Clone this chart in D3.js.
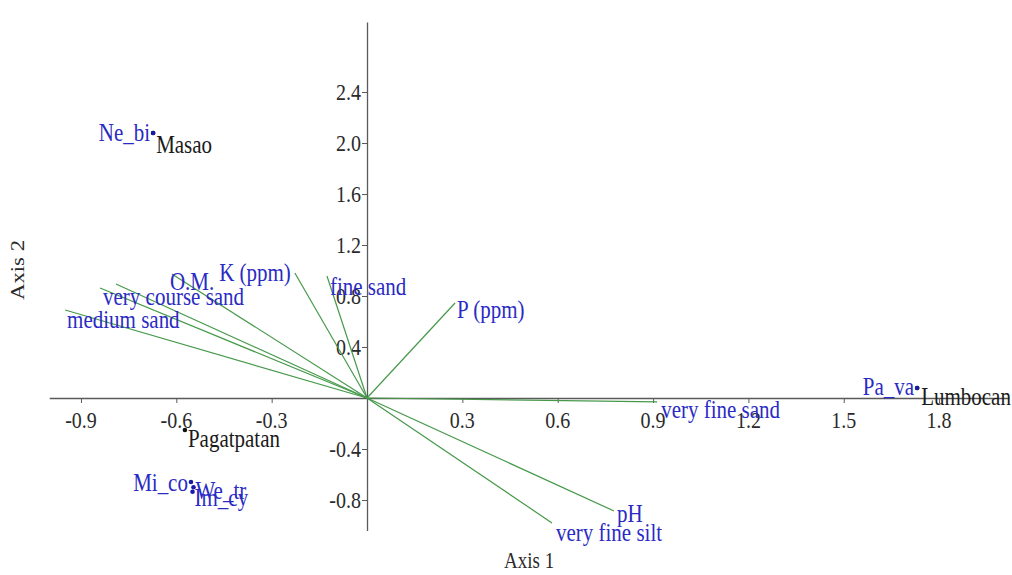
<!DOCTYPE html>
<html>
<head>
<meta charset="utf-8">
<script src="https://cdn.jsdelivr.net/npm/d3@7"></script>
<style>
  html, body { margin: 0; padding: 0; background: #fff; }
  svg { display: block; }
  svg text { font-family: "Liberation Serif", "DejaVu Serif", serif !important; }
</style>
</head>
<body>
<svg id="chart" width="1012" height="575"></svg>
<script>
// ---------- data ----------
const xTicks = [-0.9, -0.6, -0.3, 0.3, 0.6, 0.9, 1.2, 1.5, 1.8];
const yTicks = [2.4, 2.0, 1.6, 1.2, 0.8, 0.4, -0.4, -0.8];

const vectorNames = ["medium sand", "very course sand", "", "O.M.", "K (ppm)", "fine sand", "P (ppm)", "very fine sand", "pH", "very fine silt"];
const vectorX = [-0.950, -0.840, -0.790, -0.614, -0.227, -0.126, 0.277, 0.913, 0.777, 0.582];
const vectorY = [0.690, 0.863, 0.894, 0.973, 0.980, 0.957, 0.745, -0.031, -0.886, -0.980];

const speciesNames = ["Ne_bi", "Pa_va", "Mi_co", "We_tr", "Im_cy"];
const speciesX = [-0.673, 1.731, -0.554, -0.546, -0.549];
const speciesY = [2.078, 0.078, -0.659, -0.700, -0.735];

const siteNames = ["Masao", "Lumbocan", "Pagatpatan"];
const siteX = [-0.673, 1.731, -0.573];
const siteY = [2.078, 0.078, -0.251];

const axisTitles = ["Axis 1", "Axis 2"];

// ---------- layout ----------
const vectorLabelLayout = [
  {dx: 2, dy: 18, anchor: "start"},
  {dx: 3, dy: 17, anchor: "start"},
  null,
  {dx: -2, dy: 16, anchor: "start"},
  {dx: -4, dy: 8, anchor: "end"},
  {dx: 3, dy: 19, anchor: "start"},
  {dx: 2, dy: 15, anchor: "start"},
  {dx: 4, dy: 16, anchor: "start"},
  {dx: 3, dy: 11, anchor: "start"},
  {dx: 4, dy: 18, anchor: "start"}
];
const speciesLabelLayout = [
  {dx: -3, dy: 8, anchor: "end"},
  {dx: -3, dy: 7, anchor: "end"},
  {dx: -3, dy: 9, anchor: "end"},
  {dx: 2, dy: 12, anchor: "start"},
  {dx: 2, dy: 14, anchor: "start"}
];
const siteLabelLayout = [
  {dx: 3, dy: 20},
  {dx: 4, dy: 17},
  {dx: 3, dy: 17}
];

const svg = d3.select("#chart");

const x = d3.scaleLinear().domain([-1.0, 2.02]).range([49.2, 1009]);
const y = d3.scaleLinear().domain([-1.04, 2.95]).range([530.6, 21.9]);

const SERIF = "'Liberation Serif', 'DejaVu Serif', serif";
const BLUE = "#2a2ac4";
const GREEN = "#46994a";
const AXIS = "#5a5a5a";
const SY = 1.2; // vertical stretch of the text

function stretchedText(g, px, py, txt, opts) {
  return g.append("text")
    .attr("transform", `translate(${px},${py}) scale(1,${SY})`)
    .attr("text-anchor", opts.anchor || "start")
    .attr("font-family", SERIF)
    .attr("font-size", opts.size || 20)
    .attr("fill", opts.fill || "#222")
    .text(txt);
}

// axes
const gx = svg.append("g").attr("transform", `translate(0,${y(0)})`)
  .call(d3.axisBottom(x).tickValues(xTicks).tickSize(5).tickSizeOuter(0).tickFormat(""));
const gy = svg.append("g").attr("transform", `translate(${x(0)},0)`)
  .call(d3.axisLeft(y).tickValues(yTicks).tickSize(5).tickSizeOuter(0).tickFormat(""));
[gx, gy].forEach(g => {
  g.attr("font-family", SERIF);
  g.select(".domain").attr("stroke", AXIS).attr("stroke-width", 1.3);
  g.selectAll(".tick line").attr("stroke", AXIS);
});

const labels = svg.append("g");
const fmt = v => d3.format(".1f")(v).replace("\u2212", "-");
xTicks.forEach(v => {
  stretchedText(labels, x(v), y(0) + 30, fmt(v), {anchor: "middle", size: 20, fill: "#2a2a2a"});
});
yTicks.forEach(v => {
  stretchedText(labels, x(0) - 6, y(v) + 8, fmt(v), {anchor: "end", size: 20, fill: "#2a2a2a"});
});

// axis titles
stretchedText(labels, (x.range()[0] + x.range()[1]) / 2, 568, axisTitles[0], {anchor: "middle", size: 19, fill: "#2a2a2a"});
svg.append("text")
  .attr("transform", `translate(24,270) rotate(-90) scale(${SY},1)`)
  .attr("text-anchor", "middle").attr("font-family", SERIF).attr("font-size", 19).attr("fill", "#2a2a2a")
  .text(axisTitles[1]);

// vectors
const gv = svg.append("g");
vectorNames.forEach((n, i) => {
  gv.append("line")
    .attr("x1", x(0)).attr("y1", y(0))
    .attr("x2", x(vectorX[i])).attr("y2", y(vectorY[i]))
    .attr("stroke", GREEN).attr("stroke-width", 1.2);
});
vectorNames.forEach((n, i) => {
  const L = vectorLabelLayout[i];
  if (!n || !L) return;
  stretchedText(gv, x(vectorX[i]) + L.dx, y(vectorY[i]) + L.dy, n, {anchor: L.anchor, size: 21, fill: BLUE});
});

// sites
const gs = svg.append("g");
siteNames.forEach((n, i) => {
  gs.append("circle").attr("cx", x(siteX[i])).attr("cy", y(siteY[i])).attr("r", 2.3).attr("fill", "#111");
  const L = siteLabelLayout[i];
  stretchedText(gs, x(siteX[i]) + L.dx, y(siteY[i]) + L.dy, n, {anchor: "start", size: 21, fill: "#1a1a1a"});
});

// species
const gp = svg.append("g");
speciesNames.forEach((n, i) => {
  gp.append("circle").attr("cx", x(speciesX[i])).attr("cy", y(speciesY[i])).attr("r", 2.3).attr("fill", "#1a1aa8");
  const L = speciesLabelLayout[i];
  stretchedText(gp, x(speciesX[i]) + L.dx, y(speciesY[i]) + L.dy, n, {anchor: L.anchor, size: 21, fill: BLUE});
});
</script>
</body>
</html>
